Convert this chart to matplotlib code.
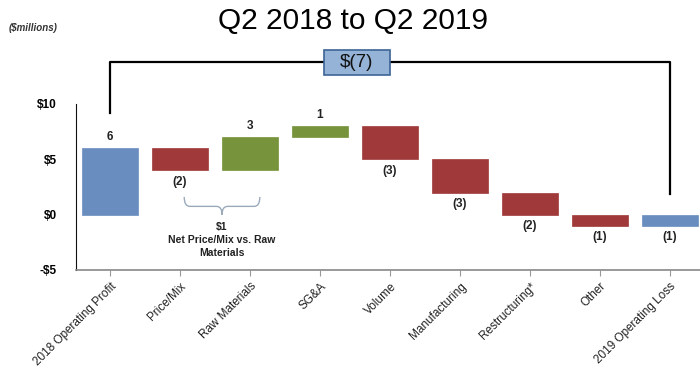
import matplotlib.pyplot as plt
from matplotlib.patches import FancyBboxPatch, PathPatch
from matplotlib.path import Path

plt.rcParams["font.family"] = ["Liberation Sans", "DejaVu Sans"]

categories = ["2018 Operating Profit", "Price/Mix", "Raw Materials", "SG&A", "Volume",
              "Manufacturing", "Restructuring*", "Other", "2019 Operating Loss"]
changes = [6, -2, 3, 1, -3, -3, -2, -1, -1]
labels = ["6", "(2)", "3", "1", "(3)", "(3)", "(2)", "(1)", "(1)"]
kinds = ["total", "step", "step", "step", "step", "step", "step", "step", "total"]

blue = "#6A8DBF"
red = "#A03A3A"
green = "#77933C"

fig = plt.figure(figsize=(7, 3.76), dpi=100)
ax = fig.add_axes([76 / 700, 106 / 376, 624 / 700, 166 / 376])

running = 0
for i, (c, k) in enumerate(zip(changes, kinds)):
    if k == "total":
        base = 0
        col = blue
        running = c
    else:
        base = running
        col = green if c > 0 else red
        running += c
    ax.bar(i, c, bottom=base, width=0.8, color=col, edgecolor=col, linewidth=0.5)
    top = max(base, base + c)
    bot = min(base, base + c)
    if c > 0:
        ax.text(i, top + 0.5, labels[i], ha="center", va="bottom", fontsize=8.5, fontweight="bold", color="#222222")
    else:
        ax.text(i, bot - 0.5, labels[i], ha="center", va="top", fontsize=8.5, fontweight="bold", color="#222222")

ax.set_xlim(-0.486, 8.428)
ax.set_ylim(-5, 10)
ax.set_yticks([-5, 0, 5, 10])
ax.set_yticklabels(["-$5", "$0", "$5", "$10"], fontsize=8.5, fontweight="bold")
ax.tick_params(axis="y", length=0, pad=14)
ax.set_xticks(range(len(categories)))
ax.set_xticklabels(categories, rotation=45, ha="right", rotation_mode="anchor", fontsize=8.5, color="#222222")
ax.tick_params(axis="x", length=4, color="#999999", direction="out")
for s in ["top", "right"]:
    ax.spines[s].set_visible(False)
ax.spines["bottom"].set_color("#888888")
ax.spines["bottom"].set_linewidth(1.2)
ax.spines["left"].set_color("#111111")

# bracket connecting start and end
ax.plot([0, 0, 8, 8], [9.2, 13.8, 13.8, 1.9], color="black", lw=1.6, clip_on=False)
box = FancyBboxPatch((3.05, 12.6), 0.95, 2.3, boxstyle="square,pad=0",
                     facecolor="#95B3D7", edgecolor="#3C6494", lw=1.2, clip_on=False, zorder=5)
ax.add_patch(box)
ax.text(3.525, 13.75, "$(7)", ha="center", va="center", fontsize=13.5, zorder=6, color="#111111")

# curly brace under Price/Mix and Raw Materials
xl, xr, xm = 1.06, 2.14, 1.6
yt, yb, yp = 1.6, 0.75, 0.0
verts = [(xl, yt), (xl, yb), (xl + 0.08, yb),
         (xm - 0.08, yb), (xm, yb), (xm, yp),
         (xm, yb), (xm + 0.08, yb),
         (xr - 0.08, yb), (xr, yb), (xr, yt)]
codes = [Path.MOVETO, Path.CURVE3, Path.CURVE3,
         Path.LINETO, Path.CURVE3, Path.CURVE3,
         Path.CURVE3, Path.CURVE3,
         Path.LINETO, Path.CURVE3, Path.CURVE3]
ax.add_patch(PathPatch(Path(verts, codes), facecolor="none", edgecolor="#9AAABB", lw=1.0))
ax.text(xm, -0.7, "$1\nNet Price/Mix vs. Raw\nMaterials", ha="center", va="top",
        fontsize=7.5, fontweight="bold", color="#222222", linespacing=1.35)

fig.text(0.505, 0.943, "Q2 2018 to Q2 2019", ha="center", va="center", fontsize=21.5)
fig.text(0.012, 0.925, "($millions)", ha="left", va="center", fontsize=7, fontstyle="italic",
         fontweight="bold", color="#333333")

fig.savefig("out.png", dpi=100)
